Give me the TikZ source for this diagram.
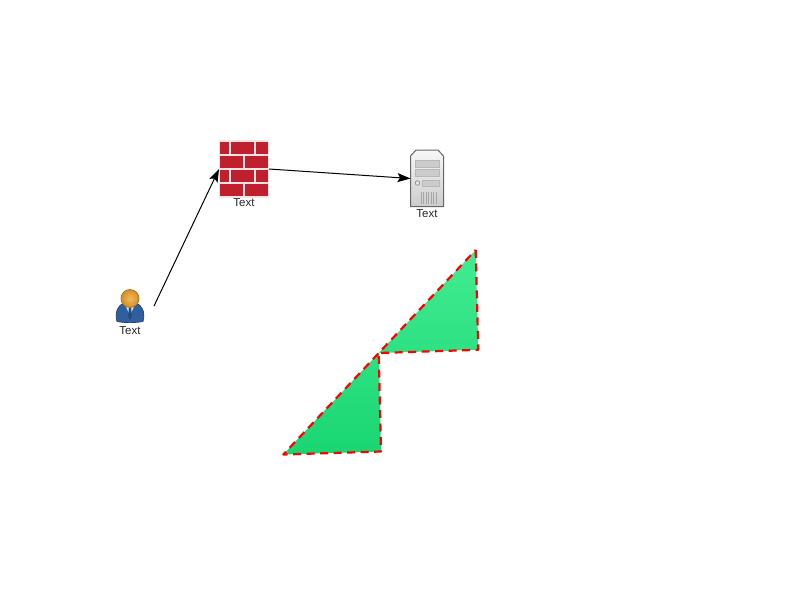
\documentclass[tikz,border=0pt]{standalone}
\usepackage{fontspec}
\setmainfont{Liberation Sans}
\usetikzlibrary{arrows.meta,positioning,shapes.geometric}
\definecolor{brick}{HTML}{C01F2E}
\definecolor{mortar}{HTML}{FBE3E5}
\definecolor{shirtblue}{HTML}{2F5F9E}
\definecolor{zonetop}{HTML}{42EC92}
\definecolor{zonebot}{HTML}{19D671}
\definecolor{headin}{HTML}{EDBB62}
\definecolor{headout}{HTML}{D68D22}
\tikzset{
  caption/.style={font=\fontsize{11.5}{12}\selectfont,text=black!85,inner sep=0pt},
  hitbox/.style={inner sep=0pt,outer sep=0pt},
  brickpart/.style={fill=brick,draw=mortar,line width=1.1pt},
  bay/.style={fill=black!20,draw=black!28,line width=0.7pt},
  zone/.style={top color=zonetop,bottom color=zonebot,draw=red,line width=2.2pt,dash pattern=on 8pt off 5.5pt,line join=round},
  link/.style={->,line width=1pt}
}
\begin{document}
\begin{tikzpicture}[x=1pt,y=-1pt,>={Stealth[length=13pt,width=9pt,inset=2.5pt]}]
\useasboundingbox (0,0) rectangle (800,600);

% firewall
\node[hitbox,minimum width=50pt,minimum height=56pt] (fw) at (244,169) {};
\foreach \y in {141,169} {
  \draw[brickpart] (219.5,\y) rectangle (230,\y+14);
  \draw[brickpart] (230,\y) rectangle (255,\y+14);
  \draw[brickpart] (255,\y) rectangle (268.5,\y+14);
  \draw[brickpart] (219.5,\y+14) rectangle (244,\y+28);
  \draw[brickpart] (244,\y+14) rectangle (268.5,\y+28);
}
\node[caption] (fwtext) at (244,202.5) {Text};

% server
\node[hitbox,minimum width=33pt,minimum height=57pt] (srv) at (427,178.5) {};
\draw[draw=black!60,line width=1pt,top color=black!3,bottom color=black!20]
  (410.5,156) -- (416,150) -- (438,150) -- (443.5,156) -- (443.5,206.5) -- (410.5,206.5) -- cycle;
\draw[bay] (415,160) rectangle (439.5,167);
\draw[bay] (415,169) rectangle (439.5,176);
\draw[bay] (422,180) rectangle (439.5,186);
\draw[draw=black!45,fill=black!10,line width=0.7pt] (417.5,183) circle (2.3pt);
\foreach \x in {421,423.5,...,436} {
  \draw[black!35,line width=0.6pt] (\x,192) -- (\x,204);
}
\node[caption] (srvtext) at (427,213.5) {Text};

% user
\draw[draw=shirtblue!70!black,line width=0.7pt,fill=shirtblue]
  (117,321.5) .. controls (114.5,312) and (118,305) .. (124,303) -- (136,303) .. controls (142,305) and (145.5,312) .. (143,321.5) .. controls (135,323) and (125,323) .. (117,321.5) -- cycle;
\fill[white!85!shirtblue] (125,304) -- (135,304) -- (130,316) -- cycle;
\fill[shirtblue!80!black] (129,307) -- (131,307) -- (132,316) -- (130,320) -- (128,316) -- cycle;
\node[circle,hitbox,minimum size=18pt,draw=headout!80!black,line width=0.7pt,inner color=headin,outer color=headout] (user) at (130,298.5) {};
\node[caption] (usertext) at (130,330.5) {Text};
\coordinate (userout) at (154,306);

% links
\draw[link] (userout) -- (fw.west);
\draw[link] (fw.east) -- (srv.west);

% zone
\coordinate (z1) at (475.7,250);
\coordinate (z2) at (478.3,349.8);
\coordinate (z3) at (378.7,353);
\coordinate (z4) at (381,451.5);
\coordinate (z5) at (283.3,454.5);
\draw[zone] (z1) -- (z2) -- (z3) -- (z4) -- (z5) -- cycle;
\end{tikzpicture}
\end{document}
